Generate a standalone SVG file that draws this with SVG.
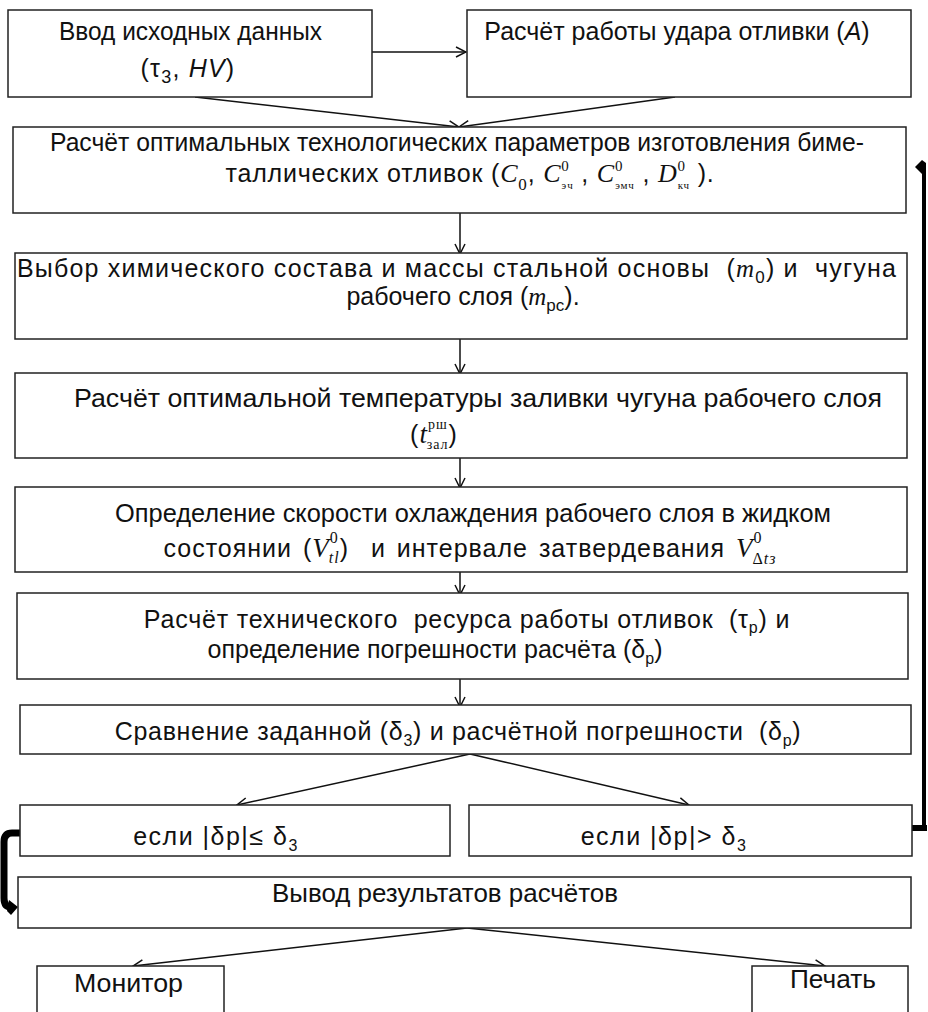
<svg xmlns="http://www.w3.org/2000/svg" width="928" height="1012" viewBox="0 0 928 1012">
<defs>
<style>
.box{fill:#fff;stroke:#222;stroke-width:1.5}
.t{font-family:"Liberation Sans",Arial,sans-serif;font-size:25px;fill:#111}
.mi{font-family:"Liberation Serif","Times New Roman",serif;font-style:italic}
.se{font-family:"Liberation Serif","Times New Roman",serif}
.c{fill:none;stroke:#111;stroke-width:1.5}
.loop{fill:none;stroke:#000;stroke-linejoin:round}
</style>
<marker id="ar" markerWidth="12" markerHeight="12" refX="11" refY="6" orient="auto" markerUnits="userSpaceOnUse">
<path d="M1,1 L11,6 L1,11" fill="none" stroke="#111" stroke-width="1.5"/>
</marker>
</defs>
<rect width="928" height="1012" fill="#fff"/>

<g id="connectors">
<line class="c" x1="372" y1="52" x2="466" y2="52" marker-end="url(#ar)"/>
<line class="c" x1="195" y1="97" x2="459" y2="127" marker-end="url(#ar)"/>
<line class="c" x1="675" y1="97" x2="459" y2="127" marker-end="url(#ar)"/>
<line class="c" x1="460" y1="213" x2="460" y2="254" marker-end="url(#ar)"/>
<line class="c" x1="460" y1="339" x2="460" y2="374" marker-end="url(#ar)"/>
<line class="c" x1="460" y1="458" x2="460" y2="488" marker-end="url(#ar)"/>
<line class="c" x1="460" y1="572" x2="460" y2="595" marker-end="url(#ar)"/>
<line class="c" x1="460" y1="679" x2="460" y2="707" marker-end="url(#ar)"/>
<line class="c" x1="470" y1="754" x2="237" y2="805" marker-end="url(#ar)"/>
<line class="c" x1="470" y1="754" x2="689" y2="805" marker-end="url(#ar)"/>
<line class="c" x1="467" y1="928" x2="133" y2="966" marker-end="url(#ar)"/>
<line class="c" x1="467" y1="928" x2="825" y2="966" marker-end="url(#ar)"/>
<path class="loop" stroke-width="4" d="M924,830 V168"/>
<path class="loop" stroke-width="6" d="M911,828 H927"/>
<polygon points="915,167 922,160 926,163 926,173 922,174" fill="#000"/>
<path class="loop" stroke-width="7" d="M20,833 H12 Q4,833 4,842 V898 Q4,907 11,907"/>
<polygon points="9,900 18,907 11,915 7,911" fill="#000"/>
</g>

<g id="n1">
<rect class="box" x="8" y="10" width="364" height="87"/>
<text class="t" x="59" y="40" textLength="263" lengthAdjust="spacingAndGlyphs">Ввод исходных данных</text>
<text class="t" x="188" y="77" text-anchor="middle" font-size="26" letter-spacing="1.2">(τ<tspan font-size="18" dy="6">3</tspan><tspan dy="-6">, </tspan><tspan font-style="italic">HV</tspan>)</text>
</g>

<g id="n2">
<rect class="box" x="467" y="10" width="444" height="87"/>
<text class="t" x="677" y="40" text-anchor="middle">Расчёт работы удара отливки (<tspan font-style="italic">A</tspan>)</text>
</g>

<g id="n3">
<rect class="box" x="13" y="127" width="893" height="86"/>
<text class="t" x="50" y="151" textLength="814" lengthAdjust="spacingAndGlyphs">Расчёт оптимальных технологических параметров изготовления биме-</text>
<text class="t" x="470" y="182" text-anchor="middle" letter-spacing="0.8">таллических отливок (<tspan class="mi" font-size="26">C</tspan><tspan class="se" font-size="17" dy="8">0</tspan><tspan dy="-8">, </tspan><tspan class="mi" font-size="26">C</tspan><tspan class="se" font-size="15" dy="-11">0</tspan><tspan class="se" font-size="11" dx="-8" dy="18">эч</tspan><tspan dy="-7"> , </tspan><tspan class="mi" font-size="26">C</tspan><tspan class="se" font-size="15" dy="-11">0</tspan><tspan class="se" font-size="11" dx="-8" dy="18">эмч</tspan><tspan dy="-7"> , </tspan><tspan class="mi" font-size="26">D</tspan><tspan class="se" font-size="15" dy="-11">0</tspan><tspan class="se" font-size="11" dx="-8" dy="18">кч</tspan><tspan dy="-7"> ).</tspan></text>
</g>

<g id="n4">
<rect class="box" x="15" y="253" width="892" height="86"/>
<text class="t" x="457" y="277" text-anchor="middle" letter-spacing="1.2" xml:space="preserve">Выбор химического состава и массы стальной основы  (<tspan class="mi">m</tspan><tspan font-size="17" dy="6">0</tspan><tspan dy="-6">) и  чугуна</tspan></text>
<text class="t" x="463" y="305" text-anchor="middle">рабочего слоя (<tspan class="mi">m</tspan><tspan font-size="17" dy="6">рс</tspan><tspan dy="-6">).</tspan></text>
</g>

<g id="n5">
<rect class="box" x="15" y="373" width="892" height="85"/>
<text class="t" x="74" y="407" textLength="808" lengthAdjust="spacingAndGlyphs">Расчёт оптимальной температуры заливки чугуна рабочего слоя</text>
<text class="t" x="434" y="443" text-anchor="middle" letter-spacing="1">(<tspan class="mi" font-size="27">t</tspan><tspan class="se" font-size="14" dy="-14">рш</tspan><tspan class="se" font-size="14" dx="-21" dy="20">зал</tspan><tspan dy="-6">)</tspan></text>
</g>

<g id="n6">
<rect class="box" x="15" y="487" width="892" height="85"/>
<text class="t" x="115" y="522" textLength="716" lengthAdjust="spacingAndGlyphs">Определение скорости охлаждения рабочего слоя в жидком</text>
<text class="t" x="470" y="557" text-anchor="middle" letter-spacing="1" word-spacing="3" xml:space="preserve">состоянии (<tspan class="mi" font-size="27">V</tspan><tspan class="se" font-size="16" dy="-14">0</tspan><tspan class="mi" font-size="16" dx="-10" dy="20">tl</tspan><tspan dy="-6">)  и интервале затвердевания </tspan><tspan class="mi" font-size="27">V</tspan><tspan class="se" font-size="16" dy="-14">0</tspan><tspan class="se" font-size="16" dx="-10" dy="21">Δ<tspan font-style="italic">tз</tspan></tspan></text>
</g>

<g id="n7">
<rect class="box" x="17" y="593" width="891" height="86"/>
<text class="t" x="467" y="628" text-anchor="middle" letter-spacing="0.8" xml:space="preserve">Расчёт технического  ресурса работы отливок  (τ<tspan font-size="16" dy="5">р</tspan><tspan dy="-5">) и</tspan></text>
<text class="t" x="435" y="658" text-anchor="middle">определение погрешности расчёта (δ<tspan font-size="16" dy="6">р</tspan><tspan dy="-6">)</tspan></text>
</g>

<g id="n8">
<rect class="box" x="20" y="705" width="891" height="49"/>
<text class="t" x="458" y="740" text-anchor="middle" letter-spacing="0.7" xml:space="preserve">Сравнение заданной (δ<tspan font-size="16" dy="6">3</tspan><tspan dy="-6">) и расчётной погрешности  (δ</tspan><tspan font-size="16" dy="6">р</tspan><tspan dy="-6">)</tspan></text>
</g>

<g id="n9a">
<rect class="box" x="20" y="805" width="430" height="51"/>
<text class="t" x="216" y="845" text-anchor="middle" letter-spacing="1.5">если |δp|≤ δ<tspan font-size="16" dy="6">3</tspan></text>
</g>

<g id="n9b">
<rect class="box" x="469" y="805" width="443" height="51"/>
<text class="t" x="664" y="845" text-anchor="middle" letter-spacing="1.5">если |δp|&gt; δ<tspan font-size="16" dy="6">3</tspan></text>
</g>

<g id="n10">
<rect class="box" x="18" y="877" width="893" height="51"/>
<text class="t" x="272" y="902" textLength="346" lengthAdjust="spacingAndGlyphs">Вывод результатов расчётов</text>
</g>

<g id="n11">
<rect class="box" x="37" y="966" width="187" height="60"/>
<text class="t" x="74" y="992" textLength="109" lengthAdjust="spacingAndGlyphs">Монитор</text>
</g>

<g id="n12">
<rect class="box" x="752" y="966" width="156" height="60"/>
<text class="t" x="790" y="988" textLength="86" lengthAdjust="spacingAndGlyphs">Печать</text>
</g>
</svg>
